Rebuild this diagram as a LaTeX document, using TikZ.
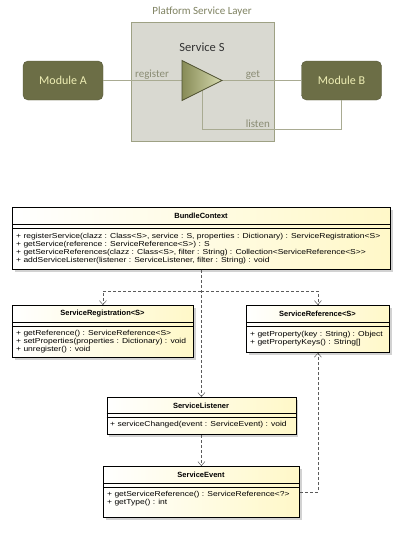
\documentclass[tikz,border=0pt]{standalone}
\usepackage{fontspec}
\setmainfont{Liberation Sans}
\newfontfamily\umlfont[FakeStretch=1.18]{Liberation Sans}
\newfontfamily\topfont{Carlito}
\usetikzlibrary{arrows.meta,shadows}

\definecolor{layerfill}{HTML}{D9D9D1}
\definecolor{layerline}{HTML}{9EA184}
\definecolor{modfill}{HTML}{6C6E46}
\definecolor{modline}{HTML}{56583A}
\definecolor{modtext}{HTML}{EEEEB4}
\definecolor{flowline}{HTML}{A9AB92}
\definecolor{flowtext}{HTML}{8A8C74}
\definecolor{titletext}{HTML}{7E8160}
\definecolor{trileft}{HTML}{878B57}
\definecolor{triright}{HTML}{D6DAAE}
\definecolor{triline}{HTML}{4E5030}
\definecolor{umlyellow}{HTML}{FFF8C8}
\definecolor{depline}{HTML}{5A5A5A}

\tikzset{
	module/.style={draw=modline,fill=modfill,rounded corners=5pt,minimum width=80pt,minimum height=39pt,text=modtext,font=\topfont\fontsize{12}{14}\selectfont},
	flow/.style={draw=flowline,line width=0.8pt},
	flowlabel/.style={text=flowtext,font=\topfont\fontsize{11}{13}\selectfont,inner sep=1pt},
	umlbox/.style={draw=black,line width=0.8pt,left color=white,right color=umlyellow,anchor=north west,inner sep=0pt,drop shadow={shadow xshift=2.5pt,shadow yshift=-2.5pt,fill=black!35,opacity=.5}},
	umltitle/.style={font=\fontsize{7.5}{9}\selectfont\bfseries,inner sep=0pt},
	umlrow/.style={font=\umlfont\fontsize{7.2}{8}\selectfont,anchor=west,inner sep=0pt},
	umlsep/.style={draw=black,line width=0.5pt},
	dep/.style={draw=depline,dash pattern=on 3pt off 2pt,line width=0.5pt,-{Straight Barb[length=4pt,width=7pt]}}
}

\begin{document}
\begin{tikzpicture}[x=1pt,y=-1pt]
	\useasboundingbox (0,0) rectangle (404,533);

	% platform service layer
	\node[text=titletext,font=\topfont\fontsize{11}{13}\selectfont] (layertitle) at (202,12) {Platform Service Layer};
	\node[draw=layerline,fill=layerfill,line width=0.8pt,anchor=north west,minimum width=143pt,minimum height=119pt] (layer) at (131,22) {};
	\node[module] (ma) at (63,80.5) {Module A};
	\node[module] (mb) at (341.5,80.5) {Module B};
	\node[font=\topfont\fontsize{12.5}{15}\selectfont,text=black!80] (servs) at (202,47) {Service S};
	\coordinate (tin) at (182,80.5);
	\coordinate (tip) at (222,80.5);
	\coordinate (tlow) at (202,90.5);
	\coordinate (lc) at (341.5,129);
	\draw[flow] (ma) -- (tin) node[flowlabel,anchor=south,pos=0.62] (reg) {register};
	\draw[flow] (tip) -- (mb) node[flowlabel,anchor=south,pos=0.39] (get) {get};
	\draw[flow] (tlow) |- (lc) node[flowlabel,anchor=south,pos=0.70,yshift=0.5pt] (lis) {listen} -- (mb.south);
	\path[draw=triline,line width=0.8pt,left color=trileft,right color=triright] (182,60.5) -- (tip) -- (182,100.5) -- cycle;

	% BundleContext
	\node[umlbox,minimum width=378pt,minimum height=62pt] (bc) at (12,207) {};
	\node[umltitle] (bct) at (201,216) {BundleContext};
	\draw[umlsep] (12,224) -- (390,224) (12,228) -- (390,228);
	\node[umlrow] (bc1) at (16,237) {+ registerService(clazz : Class<S>, service : S, properties : Dictionary) : ServiceRegistration<S>};
	\node[umlrow] (bc2) at (16,245) {+ getService(reference : ServiceReference<S>) : S};
	\node[umlrow] (bc3) at (16,253) {+ getServiceReferences(clazz : Class<S>, filter : String) : Collection<ServiceReference<S>>};
	\node[umlrow] (bc4) at (16,261) {+ addServiceListener(listener : ServiceListener, filter : String) : void};

	% ServiceRegistration
	\node[umlbox,minimum width=181pt,minimum height=52pt] (sreg) at (12,305) {};
	\node[umltitle] (sregt) at (102.5,314) {ServiceRegistration<S>};
	\draw[umlsep] (12,322) -- (193,322) (12,326) -- (193,326);
	\node[umlrow] (sreg1) at (16,334) {+ getReference() : ServiceReference<S>};
	\node[umlrow] (sreg2) at (16,342) {+ setProperties(properties : Dictionary) : void};
	\node[umlrow] (sreg3) at (16,350) {+ unregister() : void};

	% ServiceReference
	\node[umlbox,minimum width=143pt,minimum height=47pt] (sref) at (246,305) {};
	\node[umltitle] (sreft) at (317.5,314) {ServiceReference<S>};
	\draw[umlsep] (246,322) -- (389,322) (246,326) -- (389,326);
	\node[umlrow] (sref1) at (250,335) {+ getProperty(key : String) : Object};
	\node[umlrow] (sref2) at (250,343) {+ getPropertyKeys() : String[]};

	% ServiceListener
	\node[umlbox,minimum width=189pt,minimum height=37pt] (sl) at (106.5,397) {};
	\node[umltitle] (slt) at (201,406) {ServiceListener};
	\draw[umlsep] (106.5,413) -- (295.5,413) (106.5,417) -- (295.5,417);
	\node[umlrow] (sl1) at (110,425) {+ serviceChanged(event : ServiceEvent) : void};

	% ServiceEvent
	\node[umlbox,minimum width=196pt,minimum height=51pt] (se) at (103,466) {};
	\node[umltitle] (set) at (201,475) {ServiceEvent};
	\draw[umlsep] (103,483) -- (299,483) (103,487) -- (299,487);
	\node[umlrow] (se1) at (107,495) {+ getServiceReference() : ServiceReference<?>};
	\node[umlrow] (se2) at (107,503) {+ getType() : int};

	% dependencies
	\coordinate (fork) at (201,291);
	\draw[dep] (bc.south) -- (sl.north);
	\draw[dep] (fork) -| (sreg.north);
	\draw[dep] (fork) -| (sref.north);
	\draw[dep] (sl.south) -- (se.north);
	\draw[dep] (se.east) -| (sref.south);
\end{tikzpicture}
\end{document}
